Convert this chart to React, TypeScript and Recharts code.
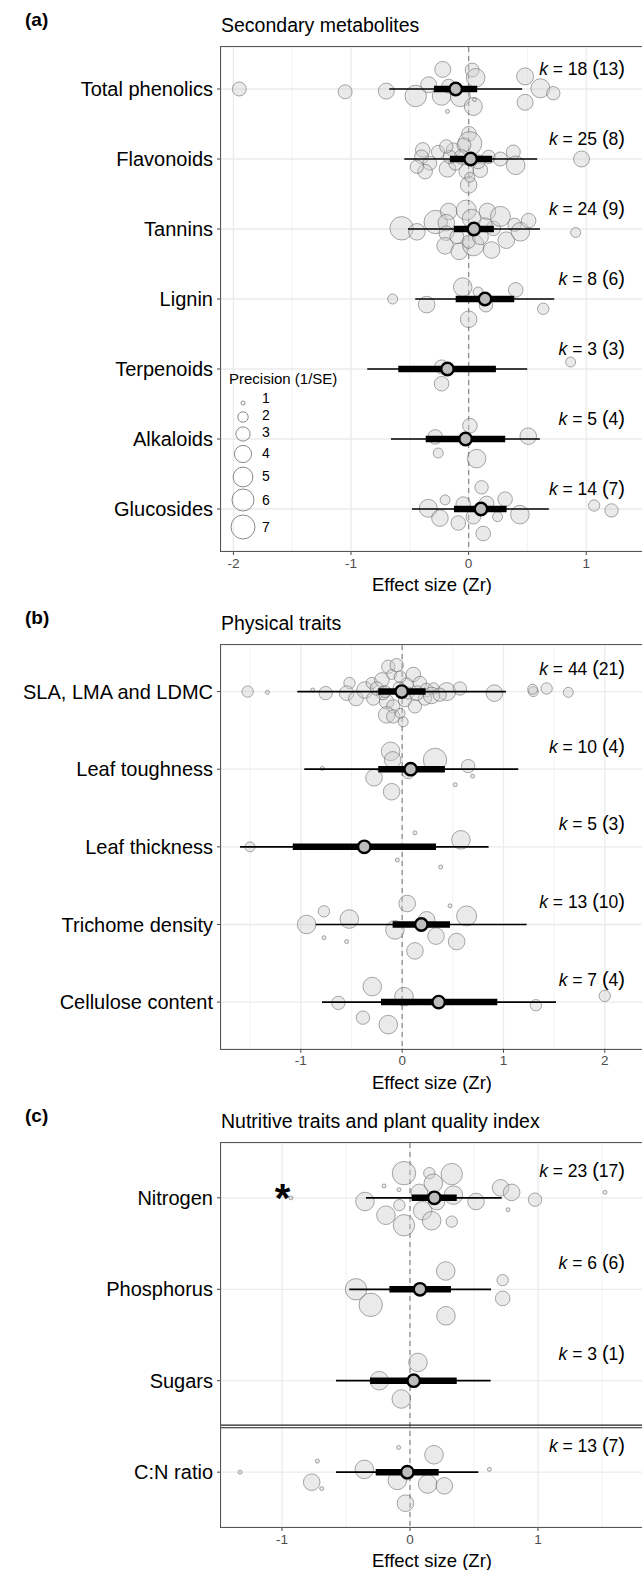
import React from 'react';
import { ScatterChart, Scatter, XAxis, YAxis, ZAxis, CartesianGrid } from 'recharts';

const FONT = '"Liberation Sans", Arial, Helvetica, sans-serif';

// each effect size: [Zr, vertical jitter (in category units), precision 1/SE]
type Pt = [number, number, number];

// (a) Secondary metabolites
const secCats = ['Total phenolics', 'Flavonoids', 'Tannins', 'Lignin', 'Terpenoids', 'Alkaloids', 'Glucosides'];
const secK = [18, 25, 24, 8, 3, 5, 14];
const secStudies = [13, 8, 9, 6, 3, 4, 7];
const secEst = [-0.11, 0.017, 0.045, 0.139, -0.18, -0.026, 0.105];
const secCI = [[-0.295, 0.073], [-0.159, 0.2], [-0.125, 0.215], [-0.11, 0.388], [-0.598, 0.232], [-0.365, 0.311], [-0.125, 0.323]];
const secPI = [[-0.675, 0.455], [-0.547, 0.583], [-0.516, 0.606], [-0.454, 0.728], [-0.862, 0.498], [-0.66, 0.606], [-0.482, 0.682]];
const secPts: Pt[][] = [
  [[-1.95, 0, 2.93], [-1.05, 0.04, 2.93], [-0.7, 0.03, 3.57], [-0.45, 0.1, 5.74], [-0.34, -0.06, 3.57], [-0.22, -0.28, 3.57],
   [-0.23, 0.1, 4.54], [-0.17, -0.04, 2.93], [-0.07, 0.11, 5.12], [0.03, -0.27, 2.93], [0.06, -0.16, 4.54], [0.04, 0.25, 4.3],
   [-0.18, 0.32, 1], [0.05, 0.15, 1], [0.48, -0.18, 3.93], [0.61, -0.01, 4.7], [0.48, 0.19, 3.57], [0.72, 0.06, 2.75]],
  [[0.003, -0.36, 3.12], [0.01, -0.22, 7], [-0.39, -0.13, 3.12], [-0.26, -0.1, 2.75], [-0.13, -0.13, 2.93], [-0.04, -0.2, 2.93],
   [0.17, -0.03, 2.75], [0.27, 0, 2.93], [0.38, -0.1, 2.93], [0.4, 0.09, 4.54], [-0.4, -0.03, 2.93], [-0.33, 0.06, 2.93],
   [-0.37, 0.18, 3.12], [-0.18, 0.14, 3.79], [-0.11, 0.06, 2.93], [-0.02, 0.18, 3.12], [0.1, 0.16, 3.12], [0, 0.37, 3.79],
   [0.01, 0.26, 1.9], [-0.44, 0.11, 2.75], [0.96, 0, 3.57], [-0.06, -0.03, 3.12], [0.08, 0.04, 2.93], [-0.16, -0.03, 2.75],
   [-0.19, -0.18, 2.75]],
  [[-0.57, -0.01, 6.7], [-0.44, 0.04, 3.79], [-0.28, -0.1, 6.7], [-0.17, -0.25, 3.79], [-0.19, -0.09, 3.79], [-0.19, 0.06, 3.12],
   [-0.2, 0.24, 3.79], [-0.08, 0.32, 3.79], [-0.02, -0.27, 5.12], [0.025, -0.15, 4.54], [0.04, 0.23, 5.74], [0, 0.18, 2.75],
   [0.16, -0.25, 3.79], [0.21, -0.01, 3.12], [0.27, -0.18, 5.12], [0.195, 0.3, 3.79], [0.32, 0.16, 3.79], [0.39, -0.06, 2.75],
   [0.44, 0.04, 4.54], [0.51, -0.12, 3.12], [0.91, 0.05, 1.9], [-0.1, 0.11, 2.93], [0.1, 0.11, 3.57], [0.14, -0.06, 2.93]],
  [[-0.646, 0, 1.9], [-0.357, 0.08, 3.79], [-0.05, -0.17, 4.54], [0.08, -0.1, 1.9], [0.147, 0.09, 2.75], [0.4, -0.13, 3.12],
   [0.634, 0.14, 2.22], [0, 0.29, 3.79]],
  [[-0.23, -0.03, 2.93], [0.867, -0.1, 1.9], [-0.23, 0.21, 3.12]],
  [[0.011, -0.19, 3.12], [-0.284, -0.03, 3.12], [-0.258, 0.2, 1.9], [0.068, 0.28, 4.54], [0.507, -0.04, 3.79]],
  [[-0.343, -0.01, 4.3], [-0.244, 0.13, 3.79], [-0.2, -0.13, 1.9], [-0.088, 0.2, 3.12], [-0.046, -0.07, 3.12], [0.11, -0.31, 2.75],
   [0.04, 0.11, 3.12], [0.153, -0.08, 3.12], [0.246, 0.11, 1.9], [0.31, -0.14, 3.12], [0.436, 0.08, 4.54], [0.124, 0.35, 3.12],
   [1.067, -0.05, 2.22], [1.215, 0.02, 2.75]],
];

// (b) Physical traits
const phyCats = ['SLA, LMA and LDMC', 'Leaf toughness', 'Leaf thickness', 'Trichome density', 'Cellulose content'];
const phyK = [44, 10, 5, 13, 7];
const phyStudies = [21, 4, 3, 10, 4];
const phyEst = [-0.005, 0.084, -0.374, 0.189, 0.36];
const phyCI = [[-0.236, 0.232], [-0.236, 0.422], [-1.08, 0.334], [-0.094, 0.472], [-0.209, 0.939]];
const phyPI = [[-1.035, 1.024], [-0.966, 1.146], [-1.6, 0.853], [-0.854, 1.229], [-0.791, 1.518]];
const phyPts: Pt[][] = [
  [[-1.525, 0, 2.22], [-1.33, 0.01, 1], [-0.883, -0.02, 1], [-0.755, 0.02, 2.75], [-0.52, -0.11, 2.22], [-0.548, 0.02, 3.12],
   [-0.456, 0.09, 3.12], [-0.367, -0.02, 3.79], [-0.3, -0.11, 2.22], [-0.2, -0.15, 3.12], [-0.137, -0.32, 2.75], [-0.054, -0.34, 2.75],
   [-0.104, -0.22, 1.9], [0.11, -0.22, 3.12], [0.044, -0.09, 2.75], [0.176, -0.11, 2.75], [0.24, -0.02, 2.75], [0.31, -0.04, 2.22],
   [0.44, 0, 4.3], [0.57, -0.04, 2.75], [0.91, 0.02, 3.79], [1.294, 0, 1.9], [1.288, -0.03, 1.9], [1.426, -0.04, 2.22],
   [1.64, 0.01, 1.9], [-0.153, 0.13, 3.12], [-0.19, 0.02, 2.75], [-0.088, 0.19, 2.75], [-0.153, 0.3, 3.79], [-0.088, 0.32, 2.75],
   [-0.02, 0.28, 1.9], [0.028, 0.11, 2.75], [0.126, 0.19, 2.75], [0.225, 0.09, 2.75], [-0.285, 0.09, 2.75], [-0.03, -0.05, 2.37],
   [0.06, 0.02, 2.37], [-0.25, -0.04, 2.75], [-0.02, -0.19, 2.37], [0.143, 0.02, 3.12], [0.29, 0.05, 3.79], [-0.17, 0, 2.37],
   [0.37, 0.04, 2.75], [0.01, 0.39, 1.9]],
  [[-0.788, -0.01, 1], [-0.278, 0.11, 3.79], [-0.114, -0.23, 4.54], [-0.094, -0.12, 3.79], [-0.104, 0.29, 3.79], [0.06, 0.05, 2.22],
   [0.324, -0.12, 6.7], [0.652, -0.04, 2.75], [0.695, 0.09, 1], [0.524, 0.2, 1]],
  [[-1.502, 0, 1.9], [0.126, -0.18, 1], [0.58, -0.09, 4.54], [-0.048, 0.17, 1], [0.38, 0.26, 1]],
  [[-0.943, 0, 4.54], [-0.772, -0.17, 2.22], [-0.522, -0.07, 4.54], [-0.772, 0.17, 1], [-0.548, 0.22, 1], [-0.071, 0.07, 4.54],
   [0.05, -0.27, 3.79], [0.126, 0.34, 3.79], [0.242, -0.06, 3.79], [0.334, 0.15, 3.79], [0.472, -0.24, 1], [0.538, 0.22, 3.79],
   [0.636, -0.11, 5.12]],
  [[-0.295, -0.2, 4.54], [0.018, -0.07, 4.54], [-0.63, 0.01, 2.75], [-0.387, 0.2, 2.75], [-0.137, 0.29, 4.54], [1.32, 0.04, 2.22],
   [2.0, -0.08, 2.22]],
];

// (c) Nutritive traits and plant quality index
const nutCats = ['Nitrogen', 'Phosphorus', 'Sugars', 'C:N ratio'];
const nutK = [23, 6, 3, 13];
const nutStudies = [17, 6, 1, 7];
const nutEst = [0.19, 0.078, 0.029, -0.021];
const nutCI = [[0.013, 0.365], [-0.161, 0.32], [-0.312, 0.365], [-0.268, 0.224]];
const nutPI = [[-0.344, 0.716], [-0.474, 0.633], [-0.578, 0.63], [-0.578, 0.534]];
const nutPts: Pt[][] = [
  [[-0.352, 0.04, 4.54], [-0.203, -0.13, 1], [-0.086, -0.09, 1], [-0.047, -0.27, 6.7], [-0.083, 0.08, 2.22], [-0.188, 0.19, 4.54],
   [-0.047, 0.3, 5.74], [0.073, -0.06, 3.79], [0.151, -0.27, 2.22], [0.182, -0.16, 4.54], [0.326, -0.26, 5.74], [0.099, 0.14, 4.54],
   [0.169, 0.25, 4.54], [0.208, 0.04, 3.79], [0.339, -0.03, 4.54], [0.326, 0.26, 2.22], [0.516, 0.04, 3.79], [0.708, -0.11, 3.79],
   [0.794, -0.06, 3.79], [0.766, 0.13, 1], [0.977, 0.02, 2.75], [1.523, -0.06, 1], [-0.93, 0, 1]],
  [[-0.422, 0, 5.74], [-0.307, 0.17, 6.7], [0.279, -0.2, 4.54], [0.281, 0.29, 4.54], [0.724, -0.1, 2.22], [0.724, 0.1, 3.12]],
  [[-0.24, 0, 4.54], [0.0625, -0.2, 4.54], [-0.068, 0.2, 4.54]],
  [[-1.328, 0, 1], [-0.724, -0.12, 1], [-0.768, 0.11, 3.79], [-0.69, 0.18, 1], [-0.357, -0.03, 4.54], [-0.089, -0.27, 1],
   [-0.099, 0.09, 4.54], [-0.036, 0.34, 3.79], [0.1875, -0.19, 4.54], [0.138, 0.13, 4.54], [0.268, 0.15, 3.79], [0.62, -0.03, 1],
   [-0.02, 0.02, 2.37]],
];
const nutStar = [{ x: -0.996, y: -0.1 }];

const legendValues = [1, 2, 3, 4, 5, 6, 7];

// precision -> bubble area, shared by the ZAxis and the legend
const Z_DOMAIN: [number, number] = [1, 7];
const Z_RANGE: [number, number] = [4 * Math.PI, 144 * Math.PI];
const radiusOf = (p: number) => {
  const area = Z_RANGE[0] + ((p - Z_DOMAIN[0]) / (Z_DOMAIN[1] - Z_DOMAIN[0])) * (Z_RANGE[1] - Z_RANGE[0]);
  return Math.sqrt(area / Math.PI);
};

const PLOT_LEFT = 221;
const PLOT_W = 422;
const CHART_W = PLOT_LEFT + PLOT_W + 1;

const hide = () => <g />;

const Bubble = (props: any) => {
  const r = props.width ? props.width / 2 : Math.sqrt((props.size || 0) / Math.PI);
  return <circle cx={props.cx} cy={props.cy} r={r} fill="#cccccc" fillOpacity={0.42} stroke="#555" strokeOpacity={0.5} strokeWidth={1} />;
};

const Mean = (props: any) => (
  <circle cx={props.cx} cy={props.cy} r={6.2} fill="#bdbdbd" stroke="#000" strokeWidth={2.4} />
);

const KLabel = (props: any) => (
  <text x={props.cx} y={props.cy} dy="0.35em" textAnchor="end" fontFamily={FONT} fontSize={17.5} fill="#000">
    <tspan fontStyle="italic">k</tspan>
    <tspan> = {props.payload.k} </tspan>
    <tspan fontSize={20}>(</tspan>
    <tspan>{props.payload.n}</tspan>
    <tspan fontSize={20}>)</tspan>
  </text>
);

const Star = (props: any) => (
  <text x={props.cx} y={props.cy} dy="0.57em" textAnchor="middle" fontFamily={FONT} fontWeight="bold" fontSize={40} fill="#000">*</text>
);

interface PanelProps {
  cats: string[];
  k: number[];
  studies: number[];
  est: number[];
  ci: number[][];
  pi: number[][];
  pts: Pt[][];
  xDomain: [number, number];
  major: number[];
  minor: number[];
  top: number;
  plotH: number;
  divider?: boolean;
  star?: { x: number; y: number }[];
}

function Panel({ cats, k, studies, est, ci, pi, pts, xDomain, major, minor, top, plotH, divider, star }: PanelProps) {
  const n = cats.length;
  const yDomain: [number, number] = [-0.6, n - 0.4];
  const bubbles = pts.flatMap((row, i) => row.map(([x, j, p]) => ({ x, y: i + j, p })));
  const means = est.map((x, i) => ({ x, y: i }));
  const pxPerUnit = PLOT_W / (xDomain[1] - xDomain[0]);
  const kx = xDomain[1] - 18 / pxPerUnit;
  const kData = k.map((kk, i) => ({ x: kx, y: i - 0.29, k: kk, n: studies[i] }));

  return (
    <>
      <div style={{ position: 'absolute', left: 0, top: top - 10 }}>
        <ScatterChart width={CHART_W} height={plotH + 60} margin={{ top: 10, right: 1, bottom: 0, left: 0 }}>
          <CartesianGrid stroke="#ebebeb" strokeWidth={1.3} />
          <XAxis
            type="number"
            dataKey="x"
            domain={xDomain}
            ticks={major}
            allowDataOverflow
            height={50}
            axisLine={false}
            tickSize={4}
            tickMargin={3}
            tickLine={{ stroke: '#444' }}
            tick={{ fill: '#4d4d4d', fontSize: 13.5, fontFamily: FONT }}
          />
          <YAxis
            type="number"
            dataKey="y"
            domain={yDomain}
            reversed
            ticks={cats.map((_, i) => i)}
            interval={0}
            allowDataOverflow
            width={PLOT_LEFT}
            axisLine={false}
            tickSize={4}
            tickMargin={4}
            tickLine={{ stroke: '#444' }}
            tickFormatter={(v: number) => cats[v] ?? ''}
            tick={{ fill: '#000', fontSize: 20, fontFamily: FONT }}
          />
          <ZAxis type="number" dataKey="p" domain={Z_DOMAIN} range={Z_RANGE} />
          {minor.map((v) => (
            <Scatter key={'minor' + v} data={[{ x: v, y: yDomain[0] }, { x: v, y: yDomain[1] }]} line={{ stroke: '#ededed', strokeWidth: 0.7 }} shape={hide} isAnimationActive={false} />
          ))}
          <Scatter data={[{ x: 0, y: yDomain[0] }, { x: 0, y: yDomain[1] }]} line={{ stroke: '#8f8f8f', strokeWidth: 1.3, strokeDasharray: '5 4' }} shape={hide} isAnimationActive={false} />
          <Scatter data={bubbles} shape={Bubble} isAnimationActive={false} />
          {pi.map(([lo, hi], i) => (
            <Scatter key={'pi' + i} data={[{ x: lo, y: i }, { x: hi, y: i }]} line={{ stroke: '#000', strokeWidth: 1.7 }} shape={hide} isAnimationActive={false} />
          ))}
          {ci.map(([lo, hi], i) => (
            <Scatter key={'ci' + i} data={[{ x: lo, y: i }, { x: hi, y: i }]} line={{ stroke: '#000', strokeWidth: 6.5 }} shape={hide} isAnimationActive={false} />
          ))}
          <Scatter data={means} shape={Mean} isAnimationActive={false} />
          <Scatter data={kData} shape={KLabel} isAnimationActive={false} />
          {star && <Scatter data={star} shape={Star} isAnimationActive={false} />}
          {divider && (
            <Scatter data={[{ x: xDomain[0], y: n - 1.514 }, { x: xDomain[1], y: n - 1.514 }]} line={{ stroke: '#222', strokeWidth: 1.1 }} shape={hide} isAnimationActive={false} />
          )}
          {divider && (
            <Scatter data={[{ x: xDomain[0], y: n - 1.486 }, { x: xDomain[1], y: n - 1.486 }]} line={{ stroke: '#222', strokeWidth: 1.1 }} shape={hide} isAnimationActive={false} />
          )}
        </ScatterChart>
      </div>
      <div
        style={{
          position: 'absolute',
          left: PLOT_LEFT - 0.65,
          top: top - 0.65,
          width: PLOT_W + 10,
          height: plotH,
          border: '1.3px solid #555',
          pointerEvents: 'none',
        }}
      />
    </>
  );
}

const panels = [
  { tag: '(a)', title: 'Secondary metabolites', top: 47, plotH: 504 },
  { tag: '(b)', title: 'Physical traits', top: 645, plotH: 403.7 },
  { tag: '(c)', title: 'Nutritive traits and plant quality index', top: 1142.7, plotH: 384 },
];

const legendCy = [403, 417, 434, 454, 477, 500, 527];
const legendTy = [398, 415, 432, 453, 476, 500, 527];

export default function App() {
  return (
    <div style={{ position: 'absolute', left: 0, top: 0, width: 642, height: 1570, overflow: 'hidden', background: '#fff' }}>
      <Panel cats={secCats} k={secK} studies={secStudies} est={secEst} ci={secCI} pi={secPI} pts={secPts}
        xDomain={[-2.1055, 1.4826]} major={[-2, -1, 0, 1]} minor={[-1.5, -0.5, 0.5]} top={47} plotH={504} />
      <Panel cats={phyCats} k={phyK} studies={phyStudies} est={phyEst} ci={phyCI} pi={phyPI} pts={phyPts}
        xDomain={[-1.788, 2.377]} major={[-1, 0, 1, 2]} minor={[-1.5, -0.5, 0.5, 1.5]} top={645} plotH={403.7} />
      <Panel cats={nutCats} k={nutK} studies={nutStudies} est={nutEst} ci={nutCI} pi={nutPI} pts={nutPts}
        xDomain={[-1.4766, 1.8203]} major={[-1, 0, 1]} minor={[-0.5, 0.5, 1.5]} top={1142.7} plotH={384}
        divider star={nutStar} />
      <svg width={642} height={1570} style={{ position: 'absolute', left: 0, top: 0, pointerEvents: 'none' }} fontFamily={FONT}>
        {panels.map((p) => (
          <g key={p.tag}>
            <text x={25} y={p.top - 21} fontSize={19} fontWeight="bold" fill="#000">{p.tag}</text>
            <text x={PLOT_LEFT} y={p.top - 14.7} fontSize={19.5} fill="#000">{p.title}</text>
            <text x={PLOT_LEFT + PLOT_W / 2} y={p.top + p.plotH + 40} fontSize={18.5} textAnchor="middle" fill="#000">Effect size (Zr)</text>
          </g>
        ))}
        <text x={229} y={384} fontSize={15} fill="#000">Precision (1/SE)</text>
        {legendValues.map((v, i) => (
          <g key={v}>
            <circle cx={243} cy={legendCy[i]} r={radiusOf(v)} fill="none" stroke="#8a8a8a" strokeWidth={1} />
            <text x={262} y={legendTy[i]} dy="0.35em" fontSize={14} fill="#000">{v}</text>
          </g>
        ))}
      </svg>
    </div>
  );
}
